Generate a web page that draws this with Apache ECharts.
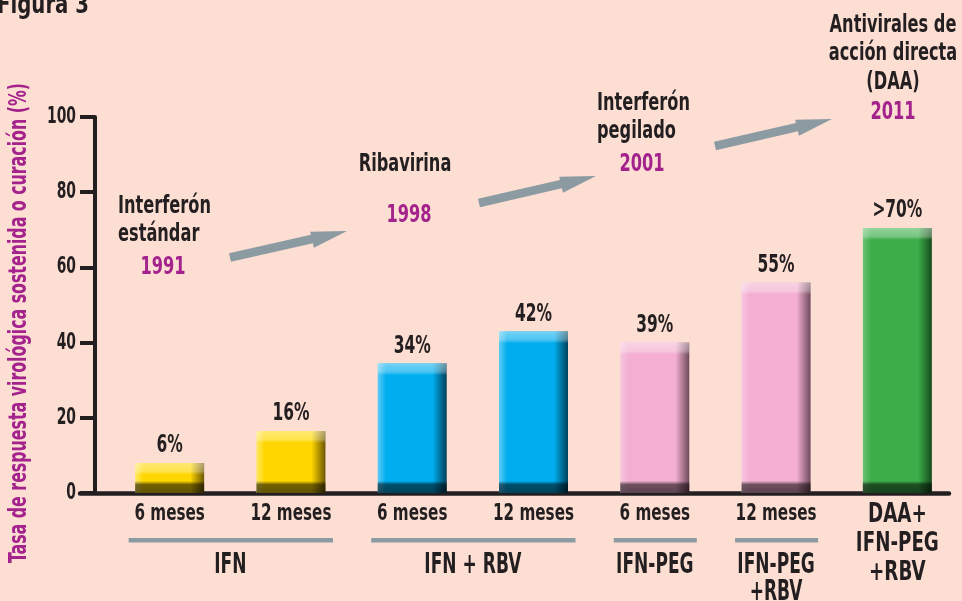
<!DOCTYPE html>
<html>
<head>
<meta charset="utf-8">
<script src="https://cdn.jsdelivr.net/npm/echarts@6/dist/echarts.min.js"></script>
<style>
html,body{margin:0;padding:0;background:#FDDED3;}
#c{width:962px;height:601px;}
</style>
</head>
<body>
<div id="c"></div>
<script>
// ---- data ----
const categories = ["6 meses","12 meses","6 meses","12 meses","6 meses","12 meses","DAA+\nIFN-PEG\n+RBV"];
const barValues = [8, 16.5, 34.5, 43, 40, 56, 70.5];
const barLabels = ["6%","16%","34%","42%","39%","55%",">70%"];
const groupNames = ["IFN","IFN + RBV","IFN-PEG","IFN-PEG\n+RBV"];
const groupStart = [0, 2, 4, 5];
const groupEnd = [1, 3, 4, 5];
const yTicks = [0, 20, 40, 60, 80, 100];
const milestoneNames = ["Interferón\nestándar","Ribavirina","Interferón\npegilado","Antivirales de\nacción directa\n(DAA)"];
const milestoneYears = ["1991","1998","2001","2011"];
const yTitle = "Tasa de respuesta virológica sostenida o curación (%)";
const figTitle = "Figura 3";

// ---- styles ----
const FAM = "'DejaVu Sans Condensed','DejaVu Sans',sans-serif";
const DARK = '#231F20';
const MAG = '#A4228C';
const GRAY = '#8C9AA2';
const BG = '#FDDED3';
const palettes = [
  ['#FFE766','#FFD600','#FFD600','#6B5600'],
  ['#FFE766','#FFD600','#FFD600','#6B5600'],
  ['#5CCBF5','#00ADEE','#00ADEE','#00405A'],
  ['#5CCBF5','#00ADEE','#00ADEE','#00405A'],
  ['#F7C6DF','#F3AED1','#F3AED1','#6E4A5B'],
  ['#F7C6DF','#F3AED1','#F3AED1','#6E4A5B'],
  ['#6CC174','#3DAD4A','#3DAD4A','#174A1C']
];
function hGrad(p){
  return new echarts.graphic.LinearGradient(0,0,1,0,[
    {offset:0,color:p[0]},{offset:0.12,color:p[1]},{offset:0.8,color:p[2]},{offset:1,color:p[3]}
  ]);
}
const mctx = document.createElement('canvas').getContext('2d');
function fitX(sample, font, target){
  mctx.font = font;
  const w = Math.max(...sample.split('\n').map(t=>mctx.measureText(t).width));
  return target / w;
}
const F = (s)=>'bold '+s+'px '+FAM;
const fAnn = F(24), sxAnn = fitX('Interferón', fAnn, 93);
const fTick = F(23), sxTick = fitX('100', fTick, 29);
const fCat = F(23), sxCat = fitX('12 meses', fCat, 81);
const fCatBig = F(27), sxCatBig = fitX('IFN-PEG', fCatBig, 83);
const fGrp = F(28), sxGrp = fitX('IFN + RBV', fGrp, 97);
const fBar = F(24), sxBar = fitX('34%', fBar, 37);
const fYT = F(24), sxYT = fitX(yTitle, fYT, 480);
const fFig = F(26), sxFig = fitX(figTitle, fFig, 92);

const chart = echarts.init(document.getElementById('c'), null, {renderer:'canvas'});

function arrowPoints(x1,y1,x2,y2){
  const dx=x2-x1, dy=y2-y1, L=Math.hypot(dx,dy), ux=dx/L, uy=dy/L, nx=-uy, ny=ux;
  const hw=4.3, headL=36, hu=7.5, hd=9;
  const loc=[[0,-hw],[L-headL,-hw],[L-headL,-hu],[L,0],[L-headL,hd],[L-headL,hw],[0,hw]];
  return loc.map(([a,p])=>[x1+ux*a+nx*p, y1+uy*a+ny*p]);
}
const arrows = [[230,257.5,347,231],[479,203,596,176],[715,146,832,119]];

function gText(x, y, text, align, fill){
  return {type:'text', x:x, y:y, scaleX:sxAnn,
    style:{text:text, x:0, y:0, align:align, verticalAlign:'middle', font:fAnn, fill:fill, lineHeight:28.5}};
}
const annPos = [[118,221,'left'],[405,165,'center'],[597,118,'left'],[893,54,'center']];
const yearPos = [[163,268],[409,216],[642,165],[893,113]];

const graphics = [
  {type:'text', x:-3, y:19, scaleX:sxFig, style:{text:figTitle, x:0, y:0, font:fFig, fill:DARK, verticalAlign:'bottom', align:'left'}},
  {type:'text', x:20, y:323, rotation:Math.PI/2, scaleX:sxYT, style:{text:yTitle, x:0, y:0, font:fYT, fill:MAG, align:'center', verticalAlign:'middle'}}
].concat(milestoneNames.map((t,i)=>gText(annPos[i][0], annPos[i][1], t, annPos[i][2], DARK)))
 .concat(milestoneYears.map((t,i)=>gText(yearPos[i][0], yearPos[i][1], t, 'center', MAG)))
 .concat(arrows.map(a=>({type:'polygon', shape:{points:arrowPoints(...a)}, style:{fill:GRAY}})));

const option = {
  backgroundColor:BG,
  animation:false,
  grid:[
    {left:109, right:4, top:117, bottom:108},
    {left:80, right:13, top:117, bottom:108}
  ],
  xAxis:[
    {type:'category', gridIndex:0, data:categories,
     axisLine:{show:false}, axisTick:{show:false}, axisLabel:{show:false}},
    {type:'value', gridIndex:1, min:0, max:1,
     axisLine:{show:true, lineStyle:{color:DARK, width:4.5}}, axisTick:{show:false}, axisLabel:{show:false}, splitLine:{show:false}}
  ],
  yAxis:[
    {type:'value', gridIndex:0, min:yTicks[0], max:yTicks[yTicks.length-1], interval:yTicks[1]-yTicks[0], offset:14,
     axisLine:{show:true, lineStyle:{color:DARK, width:4}},
     axisTick:{show:true, length:15, lineStyle:{color:DARK, width:4}},
     axisLabel:{show:false},
     splitLine:{show:false}},
    {type:'value', gridIndex:1, show:false}
  ],
  series:[
    {type:'bar', xAxisIndex:0, yAxisIndex:0, barWidth:69, z:3,
     data:barValues.map((v,i)=>({value:v, itemStyle:{color:hGrad(palettes[i])}}))},
    {type:'bar', xAxisIndex:0, yAxisIndex:0, barWidth:69, barGap:'-100%', z:4, silent:true,
     data:barValues.map(v=>({value:v}))},
    // bar value labels
    {type:'custom', xAxisIndex:0, yAxisIndex:0, silent:true, clip:false, z:5,
     data:barValues.map((v,i)=>[i, v]),
     renderItem:(params, api)=>{
       const i = params.dataIndex;
       const p = api.coord([i, barValues[i]]);
       return {type:'text', x:p[0], y:p[1]-5, scaleX:sxBar,
         style:{text:barLabels[i], x:0, y:0, align:'center', verticalAlign:'bottom', font:fBar, fill:DARK}};
     }},
    // category labels
    {type:'custom', xAxisIndex:0, yAxisIndex:0, silent:true, clip:false, z:5,
     data:categories.map((c,i)=>[i, 0]),
     renderItem:(params, api)=>{
       const i = params.dataIndex;
       const p = api.coord([i, 0]);
       const big = categories[i].indexOf('\n') >= 0;
       return {type:'text', x:p[0], y:p[1]+7, scaleX: big ? sxCatBig : sxCat,
         style:{text:categories[i], x:0, y:0, align:'center', verticalAlign:'top',
           font: big ? fCatBig : fCat, fill:DARK, lineHeight:29}};
     }},
    // y tick labels
    {type:'custom', xAxisIndex:0, yAxisIndex:0, silent:true, clip:false, z:5,
     data:yTicks.map(v=>[0, v]),
     renderItem:(params, api)=>{
       const v = yTicks[params.dataIndex];
       const p = api.coord([0, v]);
       const x = params.coordSys.x - 14 - 15 - 4;
       return {type:'text', x:x, y:p[1], scaleX:sxTick,
         style:{text:String(v), x:0, y:0, align:'right', verticalAlign:'middle', font:fTick, fill:DARK}};
     }},
    // group lines and names
    {type:'custom', xAxisIndex:0, yAxisIndex:0, silent:true, clip:false, z:5,
     data:groupStart.map((s,i)=>[s, groupEnd[i]]),
     renderItem:(params, api)=>{
       const i = params.dataIndex;
       const s = api.coord([groupStart[i], 0]);
       const e = api.coord([groupEnd[i], 0]);
       const y = s[1];
       return {type:'group', children:[
         {type:'rect', shape:{x:s[0]-41, y:y+45, width:(e[0]-s[0])+83, height:4.5}, style:{fill:GRAY}},
         {type:'text', x:(s[0]+e[0])/2, y:y+59, scaleX:sxGrp,
          style:{text:groupNames[i], x:0, y:0, align:'center', verticalAlign:'top',
           font:fGrp, fill:DARK, lineHeight:27}}
       ]};
     }}
  ],
  graphic:graphics
};
chart.setOption(option);

// bevel overlay (light top strip, dark bottom strip) sized in pixels
const base = chart.convertToPixel({yAxisIndex:0}, 0);
const overlay = barValues.map(v=>{
  const h = Math.max(1, base - chart.convertToPixel({yAxisIndex:0}, v));
  const f = Math.min(0.45, 12/h);
  return {value:v, itemStyle:{color:new echarts.graphic.LinearGradient(0,0,0,1,[
    {offset:0,color:'rgba(255,255,255,0.45)'},
    {offset:f*0.7,color:'rgba(255,255,255,0.3)'},
    {offset:f,color:'rgba(255,255,255,0)'},
    {offset:1-f,color:'rgba(0,0,0,0)'},
    {offset:1-f*0.7,color:'rgba(0,0,0,0.55)'},
    {offset:1,color:'rgba(0,0,0,0.62)'}
  ])}};
});
chart.setOption({series:[{},{data:overlay}]});
</script>
</body>
</html>
